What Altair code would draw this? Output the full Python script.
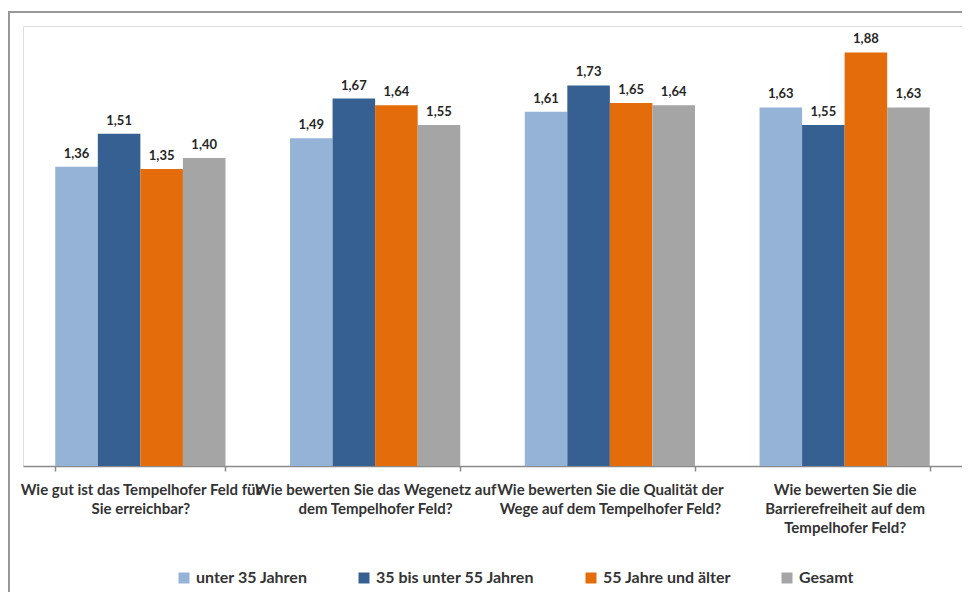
import altair as alt
import pandas as pd

questions = [
    "Wie gut ist das Tempelhofer Feld für\nSie erreichbar?",
    "Wie bewerten Sie das Wegenetz auf\ndem Tempelhofer Feld?",
    "Wie bewerten Sie die Qualität der\nWege auf dem Tempelhofer Feld?",
    "Wie bewerten Sie die\nBarrierefreiheit auf dem\nTempelhofer Feld?",
]
groups = ["unter 35 Jahren", "35 bis unter 55 Jahren", "55 Jahre und älter", "Gesamt"]
colors = ["#95B3D7", "#376092", "#E46C0A", "#A5A5A5"]

unter35 = [1.36, 1.49, 1.61, 1.63]
bis55 = [1.51, 1.67, 1.73, 1.55]
ab55 = [1.35, 1.64, 1.65, 1.88]
gesamt = [1.40, 1.55, 1.64, 1.63]

rows = []
for series_name, vals in zip(groups, [unter35, bis55, ab55, gesamt]):
    for q, v in zip(questions, vals):
        rows.append({"question": q, "group": series_name, "value": v})
df = pd.DataFrame(rows)

W, H = 939, 440
FONT = "Lato"

x_enc = alt.X(
    "question:N",
    sort=questions,
    title=None,
    scale=alt.Scale(paddingInner=0.275, paddingOuter=0.1375),
    axis=alt.Axis(
        labelAngle=0,
        labelExpr="split(datum.label, '\\n')",
        labelFont=FONT,
        labelFontSize=15,
        labelFontWeight="bold",
        labelColor="#333333",
        labelLineHeight=19,
        labelLimit=0,
        labelOverlap=False,
        labelPadding=11,
        labelBaseline="top",
        tickBand="extent",
        tickSize=5,
        tickColor="#8a8a8a",
        domainColor="#8a8a8a",
        domainWidth=1.5,
        tickWidth=1.5,
    ),
)
xoff = alt.XOffset("group:N", sort=groups, scale=alt.Scale(paddingInner=0, paddingOuter=0))
y_enc = alt.Y("value:Q", scale=alt.Scale(domain=[0, 2]), axis=None)

bars = alt.Chart(df).mark_bar().encode(
    x=x_enc,
    xOffset=xoff,
    y=y_enc,
    color=alt.Color(
        "group:N",
        sort=groups,
        scale=alt.Scale(domain=groups, range=colors),
        legend=alt.Legend(
            title=None,
            orient="none",
            direction="horizontal",
            legendX=153,
            legendY=544,
            symbolType="square",
            symbolSize=121,
            symbolStrokeWidth=0,
            labelFont=FONT,
            labelFontSize=16,
            labelFontWeight="bold",
            labelColor="#333333",
            labelOffset=4,
            columnPadding=48,
            labelLimit=0,
        ),
    ),
)

labels = alt.Chart(df).transform_calculate(
    lab="replace(format(datum.value, '.2f'), '.', ',')"
).mark_text(
    font=FONT, fontSize=13, fontWeight="bold", color="#262626", baseline="alphabetic", dy=-9
).encode(
    x=alt.X("question:N", sort=questions),
    xOffset=xoff,
    y=y_enc,
    text="lab:N",
)

frame_top = alt.Chart(df).mark_rule(color="#999999", strokeWidth=1.5).encode(
    x=alt.value(-15), x2=alt.value(W + 10), y=alt.value(-14)
)
frame_left = alt.Chart(df).mark_rule(color="#999999", strokeWidth=1.5).encode(
    x=alt.value(-14.2), y=alt.value(-14), y2=alt.value(H + 130)
)

chart = alt.layer(frame_top, frame_left, bars, labels).properties(
    width=W,
    height=H,
    autosize=alt.AutoSizeParams(type="none"),
    padding={"left": 15, "top": 18, "right": 0, "bottom": 126},
).configure_view(stroke=None).configure(background="white")

chart.save("out.html", embed_options={"renderer": "svg", "actions": False})
